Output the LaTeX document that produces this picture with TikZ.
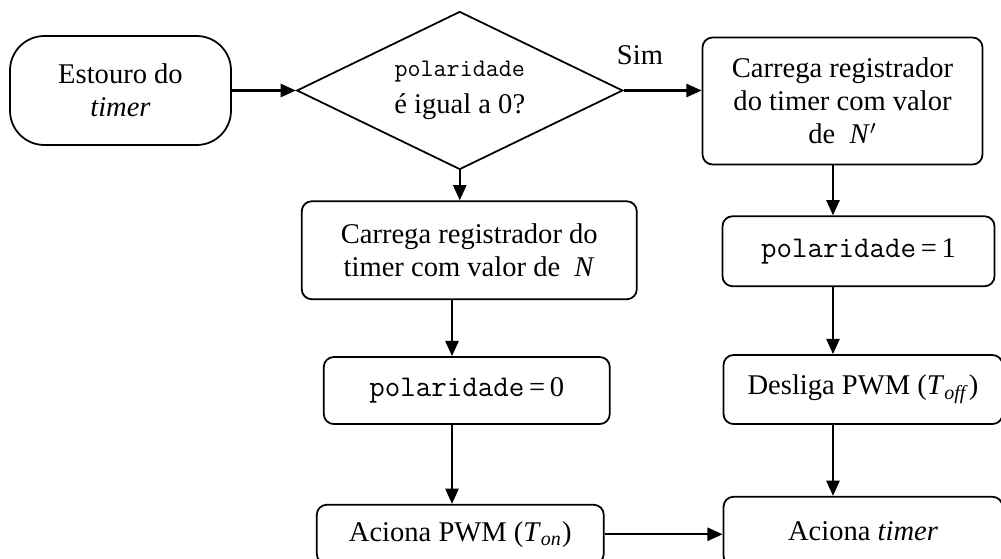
\documentclass[tikz,border=0pt]{standalone}
\usepackage{fontspec}
\setmainfont{Liberation Serif}
\usetikzlibrary{positioning,shapes.geometric,arrows.meta}

\newcommand{\polvar}[1][13.7]{{\ttfamily\fontsize{#1}{#1}\selectfont polaridade}}

\tikzset{
   passo/.style={draw, line width=0.8pt, rounded corners=0.16cm, align=center, inner sep=2pt},
   inicio/.style={draw, line width=0.8pt, rounded corners=0.55cm, align=center,
      minimum width=3.536cm, minimum height=1.744cm},
   decisao/.style={draw, diamond, line width=0.8pt, aspect=2, inner sep=0pt, align=center,
      minimum width=5.216cm, minimum height=2.528cm},
   seta/.style={-{Triangle[length=7pt,width=6pt]}, line width=1.1pt},
}

\begin{document}
\begin{tikzpicture}[font=\fontsize{13}{15}\selectfont]
   \useasboundingbox (0,0) rectangle (16.016,-8.944);

   % colunas das setas verticais
   \coordinate (colE) at (7.232,0);
   \coordinate (colD) at (13.328,0);

   % inicio e teste
   \node[inicio]                          (estouro) at (1.928,-1.448) {Estouro do\\\textit{timer}};
   \node[decisao, right=1.024cm of estouro] (polzero) {\polvar[11.5]\\[2pt]é igual a 0?};
   \node                                  (sim) at (10.24,-0.88) {Sim};

   % ramo da esquerda
   \node[passo, minimum width=5.36cm, minimum height=1.568cm,
         below=0.48cm of polzero, xshift=0.152cm]  (cargaN)
         {Carrega registrador do\\timer com valor de \ \textit{N}};
   \node[passo, minimum width=4.576cm, minimum height=1.072cm,
         below=0.896cm of cargaN, xshift=-0.04cm] (pol0) {\polvar\,=\,0};
   \node[passo, minimum width=4.592cm, minimum height=0.944cm,
         below=1.264cm of pol0, xshift=-0.104cm]  (acPWM)
         {Aciona PWM (\textit{T}\textsubscript{\textit{on}})};

   % ramo da direita
   \node[passo, minimum width=4.48cm, minimum height=2.032cm,
         right=1.248cm of polzero, yshift=-0.168cm] (cargaNl)
         {Carrega registrador\\do timer com valor\\de \ \textit{N}$'$};
   \node[passo, minimum width=4.352cm, minimum height=1.12cm,
         below=0.8cm of cargaNl, xshift=0.256cm]   (pol1) {\polvar\,=\,1};
   \node[passo, minimum width=4.464cm, minimum height=1.104cm,
         below=1.072cm of pol1, xshift=0.072cm]    (desl)
         {Desliga PWM (\textit{T}\textsubscript{\textit{off}})};
   \node[passo, minimum width=4.464cm, minimum height=1.104cm,
         below=1.136cm of desl]                    (acTimer) {Aciona \textit{timer}};

   % setas
   \draw[seta] (estouro) -- (polzero);
   \draw[seta] (polzero.east) -- (polzero.east -| cargaNl.west);
   \draw[seta] (polzero.south) -- (polzero.south |- cargaN.north);
   \draw[seta] (cargaN.south -| colE) -- (pol0.north -| colE);
   \draw[seta] (pol0.south -| colE) -- (acPWM.north -| colE);
   \draw[seta] (cargaNl.south -| colD) -- (pol1.north -| colD);
   \draw[seta] (pol1.south -| colD) -- (desl.north -| colD);
   \draw[seta] (desl.south -| colD) -- (acTimer.north -| colD);
   \draw[seta] (acPWM.east) -- (acPWM.east -| acTimer.west);
\end{tikzpicture}
\end{document}
